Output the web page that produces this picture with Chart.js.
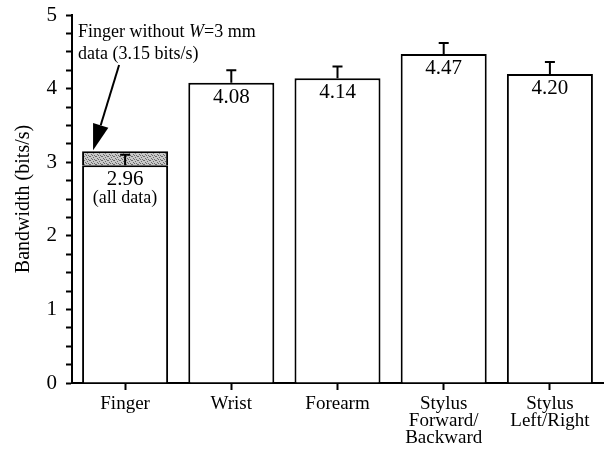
<!DOCTYPE html>
<html>
<head>
<meta charset="utf-8">
<script src="https://cdn.jsdelivr.net/npm/chart.js@4"></script>
<style>
  html, body { margin: 0; padding: 0; background: #fff; }
  #wrap { width: 604px; height: 453px; position: relative; }
</style>
</head>
<body>
<div id="wrap"><canvas id="bwChart"></canvas></div>
<script>
// chart data
const categories = [['Finger'], ['Wrist'], ['Forearm'], ['Stylus', 'Forward/', 'Backward'], ['Stylus', 'Left/Right']];
const bandwidth = [2.96, 4.08, 4.14, 4.47, 4.20];
const errorTop = [3.10, 4.25, 4.30, 4.62, 4.36];
const fingerWithoutW3 = 3.15;
const valueLabels = ['2.96', '4.08', '4.14', '4.47', '4.20'];

const serif = '"Liberation Serif", "DejaVu Serif", serif';

// stippled grey fill for the "without W=3 mm" slice
function makeStipple() {
    const c = document.createElement('canvas');
    c.width = 6; c.height = 4;
    const g = c.getContext('2d');
    g.fillStyle = '#c8c8c8';
    g.fillRect(0, 0, 6, 4);
    g.fillStyle = '#6a6a6a';
    [[0,0],[3,1],[1,2],[4,3],[5,0],[2,3]].forEach(p => g.fillRect(p[0], p[1], 1, 1));
    return g.createPattern(c, 'repeat');
}

// error bars (upper whisker with cap) + value labels + annotation
const extrasPlugin = {
    id: 'extras',
    afterDatasetsDraw(chart) {
        const ctx = chart.ctx;
        const y = chart.scales.y;
        const meta = chart.getDatasetMeta(0);
        ctx.save();
        ctx.strokeStyle = '#000';
        ctx.fillStyle = '#000';
        ctx.lineWidth = 2;
        meta.data.forEach((bar, i) => {
            const x = bar.x;
            const yTop = y.getPixelForValue(errorTop[i]);
            const yBar = y.getPixelForValue(bandwidth[i]);
            ctx.beginPath();
            ctx.moveTo(x, yBar);
            ctx.lineTo(x, yTop);
            ctx.moveTo(x - 5, yTop);
            ctx.lineTo(x + 5, yTop);
            ctx.stroke();

            ctx.font = '21px ' + serif;
            ctx.textAlign = 'center';
            ctx.textBaseline = 'top';
            ctx.fillText(valueLabels[i], x, yBar + 4);
            if (i === 0) {
                ctx.font = '18px ' + serif;
                ctx.fillText('(all data)', x, yBar + 24);
            }
        });

        // annotation text
        const a = chart.chartArea;
        const tx = a.left + 6;
        const fs = '18px ' + serif;
        ctx.textAlign = 'left';
        ctx.textBaseline = 'top';
        ctx.font = fs;
        let s1 = 'Finger without ';
        ctx.fillText(s1, tx, a.top + 8);
        let w = ctx.measureText(s1).width;
        ctx.font = 'italic ' + fs;
        ctx.fillText('W', tx + w, a.top + 8);
        w += ctx.measureText('W').width;
        ctx.font = fs;
        ctx.fillText('=3 mm', tx + w, a.top + 8);
        ctx.fillText('data (3.15 bits/s)', tx, a.top + 30);

        // arrow to the top of the finger bar
        const bar0 = meta.data[0];
        const tipX = bar0.x - 32;
        const tipY = y.getPixelForValue(fingerWithoutW3) - 1;
        const sx = bar0.x - 6, sy = a.top + 50;
        const ang = Math.atan2(tipY - sy, tipX - sx);
        const hl = 26, hw = 8;
        const bx = tipX - hl * Math.cos(ang), by = tipY - hl * Math.sin(ang);
        ctx.lineWidth = 2;
        ctx.beginPath();
        ctx.moveTo(sx, sy);
        ctx.lineTo(bx, by);
        ctx.stroke();
        ctx.beginPath();
        ctx.moveTo(tipX, tipY);
        ctx.lineTo(bx + hw * Math.sin(ang), by - hw * Math.cos(ang));
        ctx.lineTo(bx - hw * Math.sin(ang), by + hw * Math.cos(ang));
        ctx.closePath();
        ctx.fill();
        ctx.restore();
    }
};

const ctx = document.getElementById('bwChart').getContext('2d');
const bwChart = new Chart(ctx, {
    type: 'bar',
    data: {
        labels: categories,
        datasets: [{
            label: 'All data',
            data: bandwidth,
            backgroundColor: '#fff',
            borderColor: '#000',
            borderWidth: 2,
            barPercentage: 0.81,
            categoryPercentage: 1.0
        }, {
            label: 'Without W=3 mm',
            data: [[bandwidth[0], fingerWithoutW3], null, null, null, null],
            backgroundColor: makeStipple(),
            borderColor: '#000',
            borderWidth: { top: 2, left: 2, right: 2, bottom: 0 },
            borderSkipped: false,
            barPercentage: 0.81,
            categoryPercentage: 1.0
        }]
    },
    options: {
        responsive: true,
        maintainAspectRatio: false,
        animation: false,
        layout: { padding: { left: 4, top: 15, right: 1, bottom: 0 } },
        plugins: {
            legend: { display: false },
            tooltip: { enabled: false }
        },
        scales: {
            x: {
                stacked: true,
                grid: {
                    display: true,
                    offset: false,
                    drawOnChartArea: false,
                    tickLength: 7,
                    tickColor: '#000',
                    tickWidth: 2
                },
                border: { display: true, color: '#000', width: 2 },
                ticks: {
                    color: '#000',
                    font: { family: serif, size: 19, lineHeight: 0.9 },
                    padding: 5,
                    maxRotation: 0,
                    autoSkip: false
                },
                afterFit(scale) { scale.height = 70; }
            },
            y: {
                min: 0,
                max: 5,
                grid: {
                    display: true,
                    drawOnChartArea: false,
                    tickLength: 6,
                    tickColor: '#000',
                    tickWidth: 2
                },
                border: { display: true, color: '#000', width: 2 },
                ticks: {
                    stepSize: 0.25,
                    color: '#000',
                    font: { family: serif, size: 21 },
                    padding: 9,
                    autoSkip: false,
                    callback: v => Number.isInteger(v) ? String(v) : ''
                },
                title: {
                    display: true,
                    text: 'Bandwidth (bits/s)',
                    color: '#000',
                    font: { family: serif, size: 20 },
                    padding: { top: 8, bottom: 4 }
                },
                afterFit(scale) {
                    scale.width = 68;
                    scale.paddingTop = 0;
                    scale.paddingBottom = 0;
                }
            }
        }
    },
    plugins: [extrasPlugin]
});
</script>
</body>
</html>
